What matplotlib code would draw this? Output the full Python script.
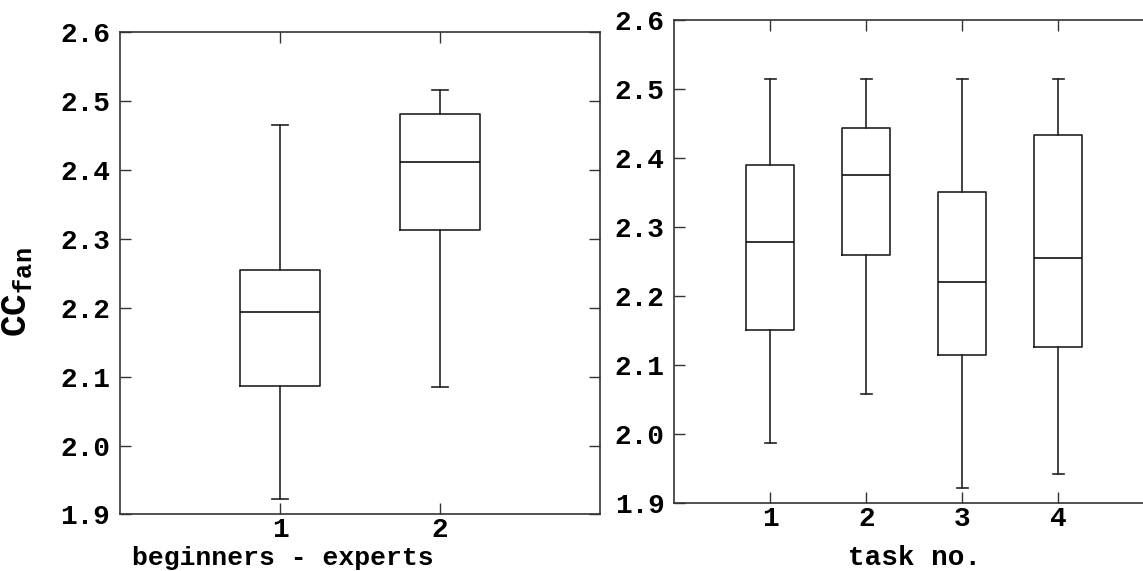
import matplotlib
matplotlib.use('Agg')
import matplotlib.pyplot as plt

plt.rcParams['font.family'] = ['Liberation Mono', 'DejaVu Sans Mono']
plt.rcParams['font.weight'] = 'bold'
plt.rcParams['mathtext.fontset'] = 'custom'
plt.rcParams['mathtext.rm'] = 'Liberation Mono:bold'
plt.rcParams['mathtext.it'] = 'Liberation Mono:bold'

# box statistics: whisker low, Q1, median, Q3, whisker high
group_names = ['1', '2']
group_lo = [1.922, 2.085]
group_q1 = [2.086, 2.313]
group_med = [2.194, 2.411]
group_q3 = [2.255, 2.481]
group_hi = [2.465, 2.516]

task_names = ['1', '2', '3', '4']
task_lo = [1.988, 2.058, 1.922, 1.942]
task_q1 = [2.151, 2.259, 2.115, 2.127]
task_med = [2.278, 2.375, 2.220, 2.255]
task_q3 = [2.390, 2.444, 2.351, 2.434]
task_hi = [2.515, 2.515, 2.515, 2.515]

yticks = [1.9, 2.0, 2.1, 2.2, 2.3, 2.4, 2.5, 2.6]


def make_stats(names, lo, q1, med, q3, hi):
    return [dict(label=n, whislo=a, q1=b, med=c, q3=d, whishi=e, fliers=[])
            for n, a, b, c, d, e in zip(names, lo, q1, med, q3, hi)]


def style(ax, n):
    ax.set_xlim(0, n + 1)
    ax.set_ylim(1.9, 2.6)
    ax.set_yticks(yticks)
    ax.set_yticklabels(['%.1f' % t for t in yticks])
    ax.tick_params(direction='in', length=8, width=1, color='#333333',
                   top=True, right=True, labelsize=20)
    ax.tick_params(axis='y', pad=7)
    ax.tick_params(axis='x', pad=2)
    for s in ax.spines.values():
        s.set_color('#333333')
        s.set_linewidth(1.2)


lp = dict(color='#222222', linewidth=1.2)

fig = plt.figure(figsize=(11.43, 5.71), dpi=100)

ax1 = fig.add_axes([0.105, 0.099, 0.42, 0.845])
ax1.bxp(make_stats(group_names, group_lo, group_q1, group_med, group_q3, group_hi),
        positions=[1, 2], widths=0.5, capwidths=0.1, showfliers=False,
        boxprops=lp, whiskerprops=lp, capprops=lp,
        medianprops=dict(color='#111111', linewidth=1.2))
style(ax1, 2)
ax1.set_xlabel('beginners - experts', fontsize=19, fontweight='bold')
ax1.xaxis.label.set_va('baseline')
ax1.xaxis.set_label_coords(0.34, -0.104)
ax1.set_ylabel('CC$_{\\mathrm{fan}}$', fontsize=26, fontweight='bold')
ax1.yaxis.set_label_coords(-0.18, 0.46)

ax2 = fig.add_axes([0.590, 0.1186, 0.42, 0.8464])
ax2.bxp(make_stats(task_names, task_lo, task_q1, task_med, task_q3, task_hi),
        positions=[1, 2, 3, 4], widths=0.5, capwidths=0.12, showfliers=False,
        boxprops=lp, whiskerprops=lp, capprops=lp,
        medianprops=dict(color='#111111', linewidth=1.2))
style(ax2, 4)
ax2.set_xlabel('task no.', fontsize=20, fontweight='bold')
ax2.xaxis.label.set_va('baseline')
ax2.xaxis.set_label_coords(0.5, -0.128)

fig.savefig('out.png', dpi=100)
